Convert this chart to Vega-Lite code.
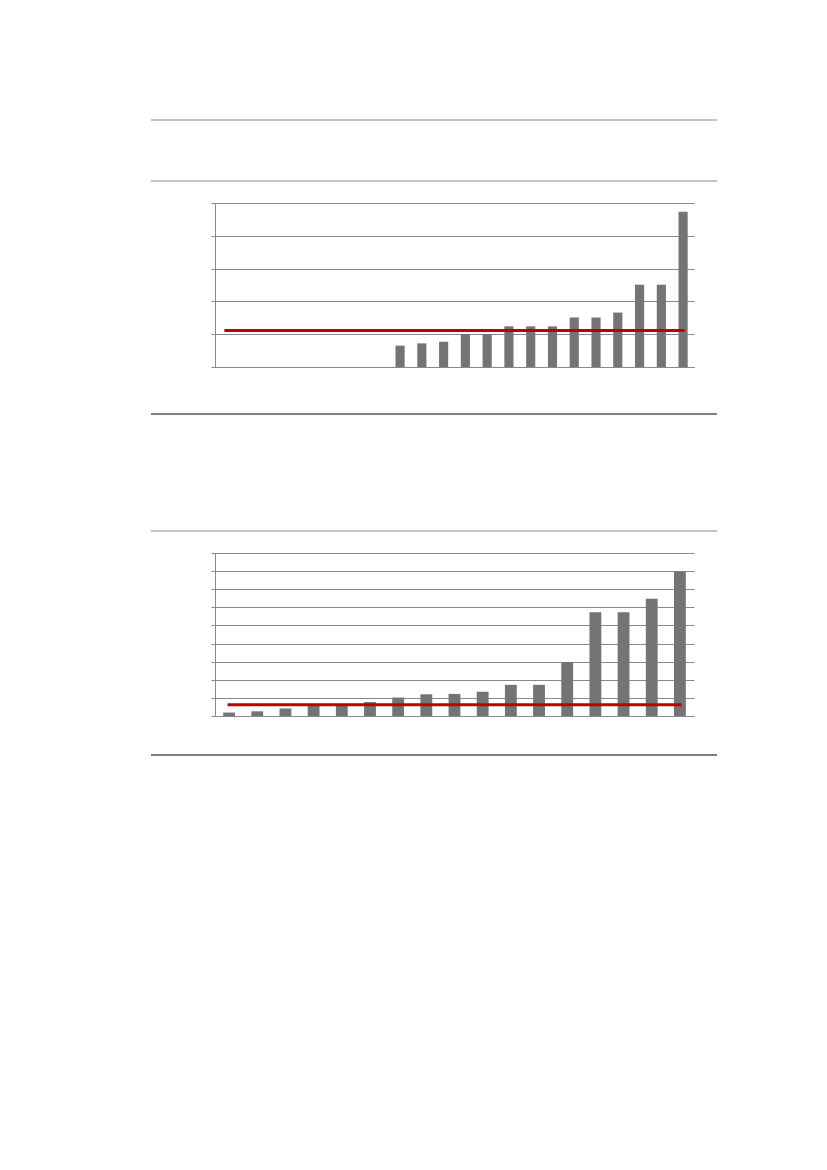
{
  "$schema": "https://vega.github.io/schema/vega-lite/v6.json",
  "background": "white",
  "padding": {"left": 150, "top": 119, "right": 0, "bottom": 0},
  "config": {
    "view": {"stroke": null},
    "axis": {
      "domainColor": "#898989",
      "tickColor": "#898989",
      "gridColor": "#898989",
      "labels": false,
      "title": null
    }
  },
  "datasets": {
    "first": [
      {"item": 1, "value": 0, "reference": 1.11},
      {"item": 2, "value": 0, "reference": 1.11},
      {"item": 3, "value": 0, "reference": 1.11},
      {"item": 4, "value": 0, "reference": 1.11},
      {"item": 5, "value": 0, "reference": 1.11},
      {"item": 6, "value": 0, "reference": 1.11},
      {"item": 7, "value": 0, "reference": 1.11},
      {"item": 8, "value": 0, "reference": 1.11},
      {"item": 9, "value": 0.65, "reference": 1.11},
      {"item": 10, "value": 0.72, "reference": 1.11},
      {"item": 11, "value": 0.77, "reference": 1.11},
      {"item": 12, "value": 1.0, "reference": 1.11},
      {"item": 13, "value": 1.0, "reference": 1.11},
      {"item": 14, "value": 1.24, "reference": 1.11},
      {"item": 15, "value": 1.24, "reference": 1.11},
      {"item": 16, "value": 1.24, "reference": 1.11},
      {"item": 17, "value": 1.51, "reference": 1.11},
      {"item": 18, "value": 1.51, "reference": 1.11},
      {"item": 19, "value": 1.66, "reference": 1.11},
      {"item": 20, "value": 2.51, "reference": 1.11},
      {"item": 21, "value": 2.51, "reference": 1.11},
      {"item": 22, "value": 4.73, "reference": 1.11}
    ],
    "second": [
      {"item": 1, "value": 0.19, "reference": 0.62},
      {"item": 2, "value": 0.26, "reference": 0.62},
      {"item": 3, "value": 0.41, "reference": 0.62},
      {"item": 4, "value": 0.58, "reference": 0.62},
      {"item": 5, "value": 0.58, "reference": 0.62},
      {"item": 6, "value": 0.77, "reference": 0.62},
      {"item": 7, "value": 1.02, "reference": 0.62},
      {"item": 8, "value": 1.2, "reference": 0.62},
      {"item": 9, "value": 1.22, "reference": 0.62},
      {"item": 10, "value": 1.34, "reference": 0.62},
      {"item": 11, "value": 1.72, "reference": 0.62},
      {"item": 12, "value": 1.72, "reference": 0.62},
      {"item": 13, "value": 2.97, "reference": 0.62},
      {"item": 14, "value": 5.73, "reference": 0.62},
      {"item": 15, "value": 5.73, "reference": 0.62},
      {"item": 16, "value": 6.48, "reference": 0.62},
      {"item": 17, "value": 7.98, "reference": 0.62}
    ]
  },
  "spacing": 20,
  "vconcat": [
    {
      "data": {"values": [{"edge": "top"}, {"edge": "bottom"}]},
      "width": 566,
      "height": 61,
      "mark": {"type": "rule", "color": "#898989", "strokeWidth": 1},
      "encoding": {
        "y": {"field": "edge", "type": "ordinal", "scale": {"type": "point", "domain": ["top", "bottom"], "padding": 0}, "axis": null}
      }
    },
    {
      "spacing": 0,
      "hconcat": [
        {"data": {"values": []}, "mark": "point", "width": 59, "height": 189.5},
        {
          "data": {"name": "first"},
          "width": 479,
          "height": 164,
          "encoding": {
            "x": {"field": "item", "type": "ordinal", "scale": {"paddingInner": 0.58, "paddingOuter": 0.29}, "axis": {"ticks": false}}
          },
          "layer": [
            {
              "mark": {"type": "bar", "color": "#747474"},
              "encoding": {
                "y": {"field": "value", "type": "quantitative", "scale": {"domain": [0, 5], "nice": false}, "axis": {"values": [0, 1, 2, 3, 4, 5], "tickCount": 12, "tickSize": 4}}
              }
            },
            {
              "mark": {"type": "line", "color": "#c00000", "strokeWidth": 3, "strokeCap": "square"},
              "encoding": {"y": {"field": "reference", "type": "quantitative"}}
            }
          ]
        }
      ]
    },
    {
      "data": {"values": [{"edge": "top"}, {"edge": "bottom"}]},
      "width": 566,
      "height": 117,
      "mark": {"type": "rule", "strokeWidth": 1},
      "encoding": {
        "y": {"field": "edge", "type": "ordinal", "scale": {"type": "point", "domain": ["top", "bottom"], "padding": 0}, "axis": null},
        "color": {"field": "edge", "type": "nominal", "scale": {"domain": ["top", "bottom"], "range": ["#000000", "#898989"]}, "legend": null}
      }
    },
    {
      "spacing": 0,
      "hconcat": [
        {"data": {"values": []}, "mark": "point", "width": 59, "height": 180.5},
        {
          "data": {"name": "second"},
          "width": 479,
          "height": 163,
          "encoding": {
            "x": {"field": "item", "type": "ordinal", "scale": {"paddingInner": 0.58, "paddingOuter": 0.29}, "axis": {"ticks": false}}
          },
          "layer": [
            {
              "mark": {"type": "bar", "color": "#747474"},
              "encoding": {
                "y": {"field": "value", "type": "quantitative", "scale": {"domain": [0, 9], "nice": false}, "axis": {"values": [0, 1, 2, 3, 4, 5, 6, 7, 8, 9], "tickCount": 20, "tickSize": 4}}
              }
            },
            {
              "mark": {"type": "line", "color": "#c00000", "strokeWidth": 3, "strokeCap": "square"},
              "encoding": {"y": {"field": "reference", "type": "quantitative"}}
            }
          ]
        }
      ]
    },
    {
      "data": {"values": [{"edge": "top"}]},
      "width": 566,
      "height": 20,
      "mark": {"type": "rule", "color": "#000000", "strokeWidth": 1},
      "encoding": {
        "y": {"field": "edge", "type": "ordinal", "scale": {"type": "point", "domain": ["top", "bottom"], "padding": 0}, "axis": null}
      }
    }
  ]
}
